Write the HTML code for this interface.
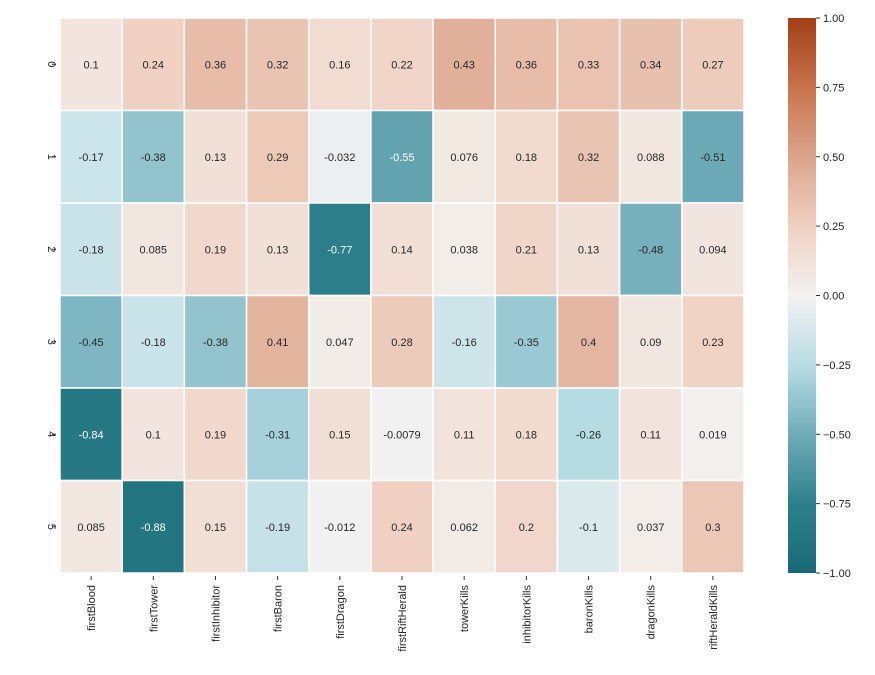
<!DOCTYPE html>
<html><head><meta charset="utf-8">
<style>
body{margin:0;background:#fff;width:875px;height:670px;overflow:hidden;font-family:"Liberation Sans",sans-serif;}
svg text{font-family:"Liberation Sans",sans-serif;}
</style></head>
<body>
<svg id="chart" width="875" height="670" xmlns="http://www.w3.org/2000/svg"></svg>
<script>
const columns = ["firstBlood","firstTower","firstInhibitor","firstBaron","firstDragon","firstRiftHerald","towerKills","inhibitorKills","baronKills","dragonKills","riftHeraldKills"];
const rowLabels = ["0","1","2","3","4","5"];
const row0 = [0.1,0.24,0.36,0.32,0.16,0.22,0.43,0.36,0.33,0.34,0.27];
const row1 = [-0.17,-0.38,0.13,0.29,-0.032,-0.55,0.076,0.18,0.32,0.088,-0.51];
const row2 = [-0.18,0.085,0.19,0.13,-0.77,0.14,0.038,0.21,0.13,-0.48,0.094];
const row3 = [-0.45,-0.18,-0.38,0.41,0.047,0.28,-0.16,-0.35,0.4,0.09,0.23];
const row4 = [-0.84,0.1,0.19,-0.31,0.15,-0.0079,0.11,0.18,-0.26,0.11,0.019];
const row5 = [0.085,-0.88,0.15,-0.19,-0.012,0.24,0.062,0.2,-0.1,0.037,0.3];
const cbTicks = [1.0,0.75,0.5,0.25,0.0,-0.25,-0.5,-0.75,-1.0];
const rows = [row0,row1,row2,row3,row4,row5];

const NS="http://www.w3.org/2000/svg";
const svg=document.getElementById('chart');
const X0=60,X1=744,Y0=18,Y1=573;
const cw=(X1-X0)/columns.length, ch=(Y1-Y0)/rowLabels.length;
const xPos=i=>X0+i*cw, yPos=j=>Y0+j*ch;
const stops=[[-1,[24,106,118]],[-0.75,[45,128,140]],[-0.5,[112,172,185]],[-0.25,[184,221,229]],[0,[243,242,241]],[0.25,[240,208,193]],[0.5,[219,164,139]],[0.75,[200,115,75]],[1,[163,62,22]]];
function color(v){
  v=Math.max(-1,Math.min(1,v));
  for(let k=0;k<stops.length-1;k++){
    const a=stops[k],b=stops[k+1];
    if(v<=b[0]){const t=(v-a[0])/(b[0]-a[0]);
      const c=a[1].map((x,i)=>Math.round(x+(b[1][i]-x)*t));return `rgb(${c})`;}
  }
  return 'rgb(163,62,22)';
}
function el(tag,attrs,txt){const e=document.createElementNS(NS,tag);for(const k in attrs)e.setAttribute(k,attrs[k]);if(txt!==undefined)e.textContent=txt;svg.appendChild(e);return e;}

rows.forEach((r,j)=>r.forEach((v,i)=>{
  const rc=el('rect',{x:xPos(i),y:yPos(j),width:cw,height:ch,fill:color(v),stroke:'#fff','stroke-width':1.5});
  
  
  const t=el('text',{x:xPos(i)+cw/2,y:yPos(j)+ch/2+4,'text-anchor':'middle','font-size':11,fill:v<-0.52?'#fff':'#262626'},String(v));
  
  
}));
rowLabels.forEach((l,j)=>{
  const cy=yPos(j)+ch/2;
  const tk=el('line',{x1:52,x2:56,y1:cy,y2:cy,stroke:'#333'});
  
  
  const t=el('text',{x:44,y:cy,'text-anchor':'middle','font-size':11,fill:'#262626',transform:`rotate(90 44 ${cy}) translate(0 -4)`},l);
  
  
});
columns.forEach((c,i)=>{
  const cx=xPos(i)+cw/2;
  const tk=el('line',{x1:cx,x2:cx,y1:576,y2:580,stroke:'#333'});
  
  
  const t=el('text',{x:cx+4,y:585,'text-anchor':'end','font-size':11,fill:'#262626',transform:`rotate(-90 ${cx+4} 585)`},c);
  
  
});
// colorbar
const CX=788,CW=28;
const defs=el('defs',{});
const g=document.createElementNS(NS,'linearGradient');
g.setAttribute('id','cb');g.setAttribute('x1','0');g.setAttribute('y1','1');g.setAttribute('x2','0');g.setAttribute('y2','0');
for(let k=0;k<=40;k++){const v=-1+k/20;const s=document.createElementNS(NS,'stop');s.setAttribute('offset',(k/40));s.setAttribute('stop-color',color(v));g.appendChild(s);}
defs.appendChild(g);
const cb=el('rect',{x:CX,y:Y0,width:CW,height:Y1-Y0,fill:'url(#cb)'});


const cbY=v=>Y0+(1-v)/2*(Y1-Y0);
cbTicks.forEach(v=>{
  const y=cbY(v);
  const tk=el('line',{x1:CX+CW,x2:CX+CW+4,y1:y,y2:y,stroke:'#333'});
  
  
  const t=el('text',{x:CX+CW+7,y:y+4,'font-size':11,fill:'#262626'},(v<0?'\u2212':'')+Math.abs(v).toFixed(2));
  
  
});
</script>
</body></html>
